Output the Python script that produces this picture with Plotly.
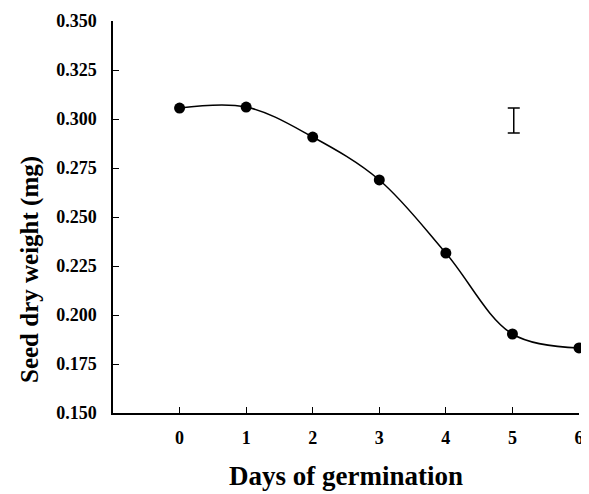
import plotly.graph_objects as go

days = [0, 1, 2, 3, 4, 5, 6]
weight = [0.3056, 0.3061, 0.2908, 0.2689, 0.2316, 0.1903, 0.1832]
err_x = [5.02]
err_y = [0.2992]
err_half = [0.0064]
y_ticks = [0.150, 0.175, 0.200, 0.225, 0.250, 0.275, 0.300, 0.325, 0.350]
y_tick_text = ["0.150", "0.175", "0.200", "0.225", "0.250", "0.275", "0.300", "0.325", "0.350"]
x_ticks = [0, 1, 2, 3, 4, 5, 6]

font = "Liberation Serif"

fig = go.Figure()
fig.add_trace(go.Scatter(
    x=days, y=weight, mode="lines+markers",
    line=dict(color="black", width=1.5, shape="spline", smoothing=1.0),
    marker=dict(color="black", size=11),
    showlegend=False, cliponaxis=False,
))
fig.add_trace(go.Scatter(
    x=err_x, y=err_y, mode="markers",
    marker=dict(color="rgba(0,0,0,0)", size=1),
    error_y=dict(type="data", array=err_half, color="black", thickness=1.5, width=6),
    showlegend=False,
))

# page body has an 8px margin, so the figure is slightly smaller than the window
fig.update_layout(
    width=581, height=486,
    paper_bgcolor="white", plot_bgcolor="white",
    margin=dict(l=105, r=10, t=13, b=81, autoexpand=False),
    font=dict(family=font, color="black"),
    xaxis=dict(
        range=[-1, 6], tickvals=x_ticks, showgrid=False, zeroline=False,
        automargin=False,
        showline=True, linecolor="black", linewidth=1.5,
        ticks="inside", ticklen=6, tickwidth=1.2, tickcolor="black",
        ticklabelstandoff=8,
        tickfont=dict(family=font, size=18, color="black", weight="bold"),
        title=dict(text="Days of germination", standoff=19,
                   font=dict(family=font, size=27, color="black", weight="bold")),
    ),
    yaxis=dict(
        range=[0.150, 0.350], tickvals=y_ticks, ticktext=y_tick_text,
        showgrid=False, zeroline=False, automargin=False,
        showline=True, linecolor="black", linewidth=1.5,
        ticks="inside", ticklen=6, tickwidth=1.2, tickcolor="black",
        ticklabelstandoff=11,
        tickfont=dict(family=font, size=18, color="black", weight="bold"),
    ),
    annotations=[dict(
        text="Seed dry weight (mg)", textangle=-90,
        xref="paper", yref="paper", x=-0.178, y=0.365,
        xanchor="center", yanchor="middle", showarrow=False,
        font=dict(family=font, size=25, color="black", weight="bold"),
    )],
)

fig.write_html("out.html")
